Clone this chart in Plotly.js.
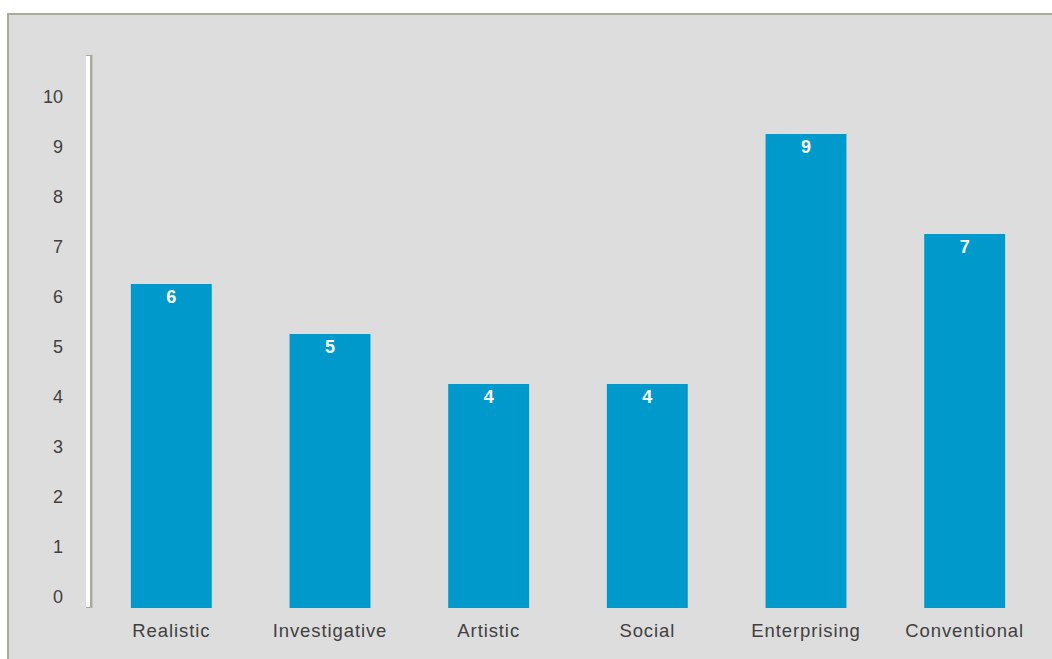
<!DOCTYPE html>
<html>
<head>
<meta charset="utf-8">
<script src="https://cdn.plot.ly/plotly-3.0.1.min.js"></script>
<style>
  html, body { margin: 0; padding: 0; background: #FFFFFF; }
  #frame { position: absolute; left: 7px; top: 13px; width: 1045px; height: 646px;
           background: #DDDDDD; border-top: 2px solid #ABAA9E; border-left: 2px solid #ABAA9E; box-sizing: border-box; }
  #chart { position: absolute; left: 0; top: 0; width: 1052px; height: 659px; }
  #chart .xtick text { letter-spacing: 0.9px; }
</style>
</head>
<body>
<div id="frame"></div>
<div id="chart"></div>
<script>
const categories = ["Realistic", "Investigative", "Artistic", "Social", "Enterprising", "Conventional"];
const scores = [6, 5, 4, 4, 9, 7];
const yTickValues = [0, 1, 2, 3, 4, 5, 6, 7, 8, 9, 10];
const yTickLabels = ["0", "1", "2", "3", "4", "5", "6", "7", "8", "9", "10"];

// the value axis floor sits a little below zero; bars rise from the floor up to their score
const yMin = -0.48;
const yMax = 10.58;

const trace = {
  type: "bar",
  x: categories,
  base: yMin,
  y: scores.map(v => v - yMin),   // bar spans [yMin, score]
  text: scores.map(String),
  texttemplate: "%{text}",
  textposition: "inside",
  insidetextanchor: "end",
  textangle: 0,
  insidetextfont: { family: "Liberation Sans, Arial, sans-serif", size: 18, color: "#FFFFFF", weight: "bold" },
  marker: { color: "#0099CC", line: { width: 0 } },
  hoverinfo: "skip"
};

const layout = {
  width: 1052,
  height: 659,
  margin: { l: 92, r: 8, t: 55, b: 51, pad: 0 },
  paper_bgcolor: "rgba(0,0,0,0)",
  plot_bgcolor: "rgba(0,0,0,0)",
  bargap: 0.49,
  showlegend: false,
  font: { family: "Liberation Sans, Arial, sans-serif", color: "#404040" },
  xaxis: {
    type: "category",
    showgrid: false,
    zeroline: false,
    showline: false,
    ticks: "",
    tickfont: { size: 18.5, color: "#404040" },
    ticklabelstandoff: 9
  },
  yaxis: {
    range: [yMin, yMax],
    showgrid: false,
    zeroline: false,
    showline: false,
    ticks: "",
    tickmode: "array",
    tickvals: yTickValues,
    ticktext: yTickLabels,
    tickfont: { size: 18, color: "#404040" },
    ticklabelstandoff: 28,
    ticklabelshift: 13
  },
  shapes: [
    { type: "rect", xref: "paper", yref: "paper", xsizemode: "pixel", xanchor: 0,
      x0: -6, x1: 0.5, y0: 0, y1: 1, fillcolor: "#ABAA9E", line: { width: 0 }, layer: "above" },
    { type: "rect", xref: "paper", yref: "paper", xsizemode: "pixel", xanchor: 0,
      x0: -6, x1: -2, y0: 0.002, y1: 0.998, fillcolor: "#FFFFFF", line: { width: 0 }, layer: "above" }
  ]
};

Plotly.newPlot("chart", [trace], layout, { displayModeBar: false, staticPlot: true });
</script>
</body>
</html>
